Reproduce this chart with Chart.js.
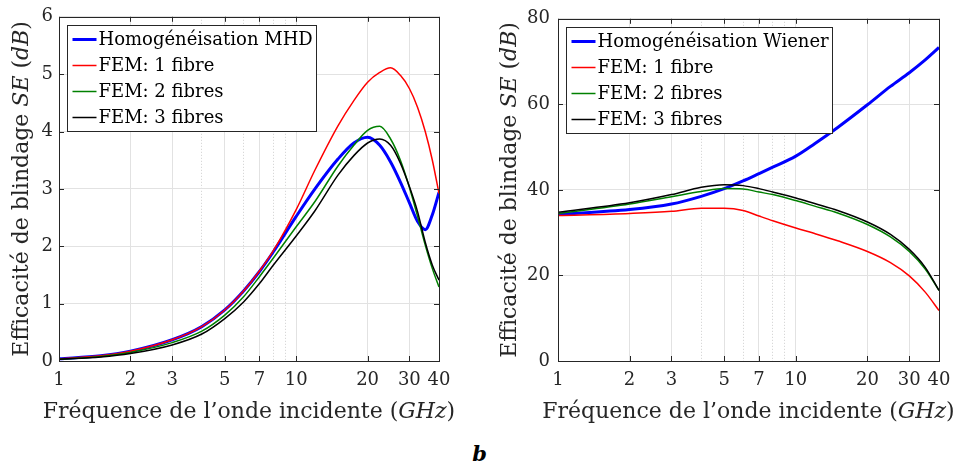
<!DOCTYPE html>
<html>
<head>
<meta charset="utf-8">
<script src="https://cdn.jsdelivr.net/npm/chart.js@4.4.1/dist/chart.umd.min.js"></script>
<style>
    body { margin: 0; background: #fff; width: 961px; height: 468px; position: relative; overflow: hidden; }
    .panel { position: absolute; top: 0; height: 440px; }
    #leftPanel { left: 0; width: 480px; }
    #rightPanel { left: 480px; width: 481px; }
    #tag { position: absolute; left: 0; width: 959px; top: 441px; text-align: center;
           font: bold italic 21px "DejaVu Serif", serif; color: #000; }
</style>
</head>
<body>
<div class="panel" id="leftPanel"><canvas id="mhdChart" width="480" height="440"></canvas></div>
<div class="panel" id="rightPanel"><canvas id="wienerChart" width="481" height="440"></canvas></div>
<div id="tag">b</div>
<script>
// ---- data ----
const xTicks = [1, 2, 3, 5, 7, 10, 20, 30, 40];
const xMinorTicks = [4, 6, 8, 9];
const yTicksMHD = [0, 1, 2, 3, 4, 5, 6];
const yTicksWiener = [0, 20, 40, 60, 80];

// left panel (MHD)
const freqMHD = [1, 1.5, 2, 3, 4, 5, 6, 7, 8, 10, 12, 15, 17.5, 20, 22.5, 25, 27.5, 30, 32.5, 35, 37.5, 40];
const mhdHomog = [0.04, 0.09, 0.17, 0.37, 0.60, 0.89, 1.22, 1.56, 1.90, 2.52, 3.00, 3.52, 3.80, 3.90, 3.76, 3.47, 3.12, 2.76, 2.43, 2.29, 2.55, 2.94];
const mhdFem1 = [0.04, 0.09, 0.17, 0.37, 0.60, 0.89, 1.22, 1.57, 1.92, 2.64, 3.33, 4.10, 4.54, 4.86, 5.03, 5.11, 4.98, 4.75, 4.42, 4.00, 3.50, 2.92];
const mhdFem2 = [0.03, 0.08, 0.15, 0.32, 0.52, 0.80, 1.12, 1.47, 1.79, 2.34, 2.78, 3.40, 3.76, 4.02, 4.09, 3.87, 3.50, 3.03, 2.52, 2.02, 1.61, 1.29];
const mhdFem3 = [0.03, 0.07, 0.13, 0.28, 0.47, 0.74, 1.03, 1.35, 1.67, 2.18, 2.62, 3.24, 3.58, 3.80, 3.87, 3.76, 3.45, 3.04, 2.60, 2.07, 1.67, 1.41];

// right panel (Wiener)
const freqWiener = [1, 2, 3, 4, 5, 6, 7, 8, 10, 12, 15, 20, 25, 30, 35, 40];
const wienerHomog = [34.3, 35.4, 36.7, 38.5, 40.3, 42.1, 43.8, 45.3, 47.9, 50.8, 54.6, 59.9, 64.2, 67.4, 70.4, 73.3];
const wienerFem1 = [34.0, 34.5, 35.0, 35.7, 35.7, 35.2, 33.9, 32.8, 31.1, 29.8, 28.1, 25.6, 23.0, 19.9, 16.1, 11.8];
const wienerFem2 = [34.5, 36.7, 38.4, 39.6, 40.3, 40.2, 39.5, 38.9, 37.5, 36.2, 34.6, 31.9, 29.0, 25.6, 21.5, 16.5];
const wienerFem3 = [34.8, 37.0, 38.9, 40.6, 41.2, 41.0, 40.3, 39.5, 38.1, 36.8, 35.2, 32.5, 29.6, 26.1, 21.9, 16.5];

const xTitleParts = [['Fréquence de l\u2019onde incidente (', false], ['GHz', true], [')', false]];
const yTitleParts = [['Efficacité de blindage ', false], ['SE', true], [' (', false], ['dB', true], [')', false]];

const FONT = '"DejaVu Serif", serif';
const AXIS_COLOR = '#262626';

function toPoints(xs, ys) {
    return xs.map((x, i) => ({x: x, y: ys[i]}));
}

function drawRichText(ctx, parts, size, cx, cy, angle) {
    ctx.save();
    ctx.translate(cx, cy);
    ctx.rotate(angle);
    let total = 0;
    const widths = parts.map(p => {
        ctx.font = (p[1] ? 'italic ' : '') + size + 'px ' + FONT;
        const w = ctx.measureText(p[0]).width;
        total += w;
        return w;
    });
    let x = -total / 2;
    ctx.textBaseline = 'middle';
    ctx.fillStyle = AXIS_COLOR;
    parts.forEach((p, i) => {
        ctx.font = (p[1] ? 'italic ' : '') + size + 'px ' + FONT;
        ctx.fillText(p[0], x, 0);
        x += widths[i];
    });
    ctx.restore();
}

// axis titles with italic units
const axisTitles = {
    id: 'axisTitles',
    afterDraw(chart) {
        const o = chart.options.plugins.axisTitles;
        const a = chart.chartArea;
        drawRichText(chart.ctx, xTitleParts, o.size, (a.left + a.right) / 2, o.xTitleY, 0);
        drawRichText(chart.ctx, yTitleParts, o.size, o.yTitleX, (a.top + a.bottom) / 2, -Math.PI / 2);
    }
};

// box + inward ticks like matlab
const frameTicks = {
    id: 'frameTicks',
    afterDraw(chart) {
        const {ctx, chartArea: a, scales} = chart;
        const len = 5;
        ctx.save();
        ctx.strokeStyle = AXIS_COLOR;
        ctx.lineWidth = 1;
        ctx.beginPath();
        scales.x.ticks.forEach(t => {
            const px = Math.round(scales.x.getPixelForValue(t.value)) + 0.5;
            ctx.moveTo(px, a.bottom); ctx.lineTo(px, a.bottom - len);
            ctx.moveTo(px, a.top); ctx.lineTo(px, a.top + len);
        });
        scales.y.ticks.forEach(t => {
            const py = Math.round(scales.y.getPixelForValue(t.value)) + 0.5;
            ctx.moveTo(a.left, py); ctx.lineTo(a.left + len, py);
            ctx.moveTo(a.right, py); ctx.lineTo(a.right - len, py);
        });
        ctx.stroke();
        ctx.strokeRect(Math.round(a.left) + 0.5, Math.round(a.top) + 0.5,
            Math.round(a.right - a.left), Math.round(a.bottom - a.top));
        ctx.restore();
    }
};

// legend in a box at the top left of the plot area
const boxLegend = {
    id: 'boxLegend',
    afterDatasetsDraw(chart) {
        const {ctx, chartArea} = chart;
        const o = chart.options.plugins.boxLegend;
        const sets = chart.data.datasets;
        ctx.save();
        ctx.font = o.size + 'px ' + FONT;
        const textW = Math.max(...sets.map(d => ctx.measureText(d.label).width));
        const x0 = Math.round(chartArea.left + o.offsetX) + 0.5;
        const y0 = Math.round(chartArea.top + o.offsetY) + 0.5;
        const w = Math.round(o.textStart + textW + o.padRight);
        const h = o.rowHeight * sets.length + 2 * o.padV;
        ctx.fillStyle = '#fff';
        ctx.fillRect(x0, y0, w, h);
        ctx.strokeStyle = AXIS_COLOR;
        ctx.lineWidth = 1;
        ctx.strokeRect(x0, y0, w, h);
        sets.forEach((d, i) => {
            const cy = y0 + o.padV + o.rowHeight * (i + 0.5);
            ctx.strokeStyle = d.borderColor;
            ctx.lineWidth = d.borderWidth;
            ctx.beginPath();
            ctx.moveTo(x0 + o.lineStart, cy);
            ctx.lineTo(x0 + o.lineStart + o.lineLength, cy);
            ctx.stroke();
            ctx.fillStyle = '#000';
            ctx.textBaseline = 'middle';
            ctx.fillText(d.label, x0 + o.textStart, cy + 1);
        });
        ctx.restore();
    }
};

function makeDataset(label, xs, ys, color, width, order) {
    return {
        label: label,
        data: toPoints(xs, ys),
        borderColor: color,
        backgroundColor: color,
        borderWidth: width,
        pointRadius: 0,
        fill: false,
        order: order,
        cubicInterpolationMode: 'monotone'
    };
}

function buildChart(canvasId, datasets, yMax, yTicks, yAxisWidth, padRight, yTitleX, yTickPad) {
    const tickFont = {family: FONT, size: 18};
    return new Chart(document.getElementById(canvasId), {
        type: 'line',
        data: {datasets: datasets},
        options: {
            responsive: false,
            animation: false,
            layout: {padding: {top: 16, right: padRight, bottom: 0, left: 0}},
            scales: {
                x: {
                    type: 'logarithmic',
                    min: 1,
                    max: 40,
                    afterBuildTicks: s => { s.ticks = xTicks.map(v => ({value: v})); },
                    afterFit: s => { s.height = 79; },
                    ticks: {
                        autoSkip: false,
                        maxRotation: 0,
                        padding: 9,
                        color: AXIS_COLOR,
                        font: tickFont,
                        callback: v => String(v)
                    },
                    grid: {color: '#e2e2e2', lineWidth: 1, drawTicks: false},
                    border: {display: false}
                },
                xMinor: {
                    type: 'logarithmic',
                    position: 'bottom',
                    min: 1,
                    max: 40,
                    afterBuildTicks: s => { s.ticks = xMinorTicks.map(v => ({value: v})); },
                    afterFit: s => { s.height = 0; },
                    ticks: {display: false},
                    grid: {color: '#cfcfcf', lineWidth: 1, drawTicks: false},
                    border: {display: false, dash: [1, 2]}
                },
                y: {
                    type: 'linear',
                    min: 0,
                    max: yMax,
                    afterBuildTicks: s => { s.ticks = yTicks.map(v => ({value: v})); },
                    afterFit: s => { s.width = yAxisWidth; },
                    ticks: {
                        padding: yTickPad,
                        color: AXIS_COLOR,
                        font: tickFont
                    },
                    grid: {color: '#e2e2e2', lineWidth: 1, drawTicks: false},
                    border: {display: false}
                }
            },
            plugins: {
                legend: {display: false},
                tooltip: {enabled: false},
                axisTitles: {size: 22, xTitleY: 412, yTitleX: yTitleX},
                boxLegend: {size: 18, offsetX: 8, offsetY: 8, rowHeight: 26, padV: 1,
                            lineStart: 5, lineLength: 24, textStart: 31, padRight: 4}
            }
        },
        plugins: [boxLegend, frameTicks, axisTitles]
    });
}

document.addEventListener('DOMContentLoaded', function() {
    buildChart('mhdChart', [
        makeDataset('Homogénéisation MHD', freqMHD, mhdHomog, '#0000ff', 3, 3),
        makeDataset('FEM: 1 fibre', freqMHD, mhdFem1, '#ff0000', 1.5, 2),
        makeDataset('FEM: 2 fibres', freqMHD, mhdFem2, '#008000', 1.5, 1),
        makeDataset('FEM: 3 fibres', freqMHD, mhdFem3, '#000000', 1.5, 0)
    ], 6, yTicksMHD, 59, 41, 22, 6);

    buildChart('wienerChart', [
        makeDataset('Homogénéisation Wiener', freqWiener, wienerHomog, '#0000ff', 3, 3),
        makeDataset('FEM: 1 fibre', freqWiener, wienerFem1, '#ff0000', 1.5, 2),
        makeDataset('FEM: 2 fibres', freqWiener, wienerFem2, '#008000', 1.5, 1),
        makeDataset('FEM: 3 fibres', freqWiener, wienerFem3, '#000000', 1.5, 0)
    ], 80, yTicksWiener, 78, 22, 30, 8);
});
</script>
</body>
</html>
